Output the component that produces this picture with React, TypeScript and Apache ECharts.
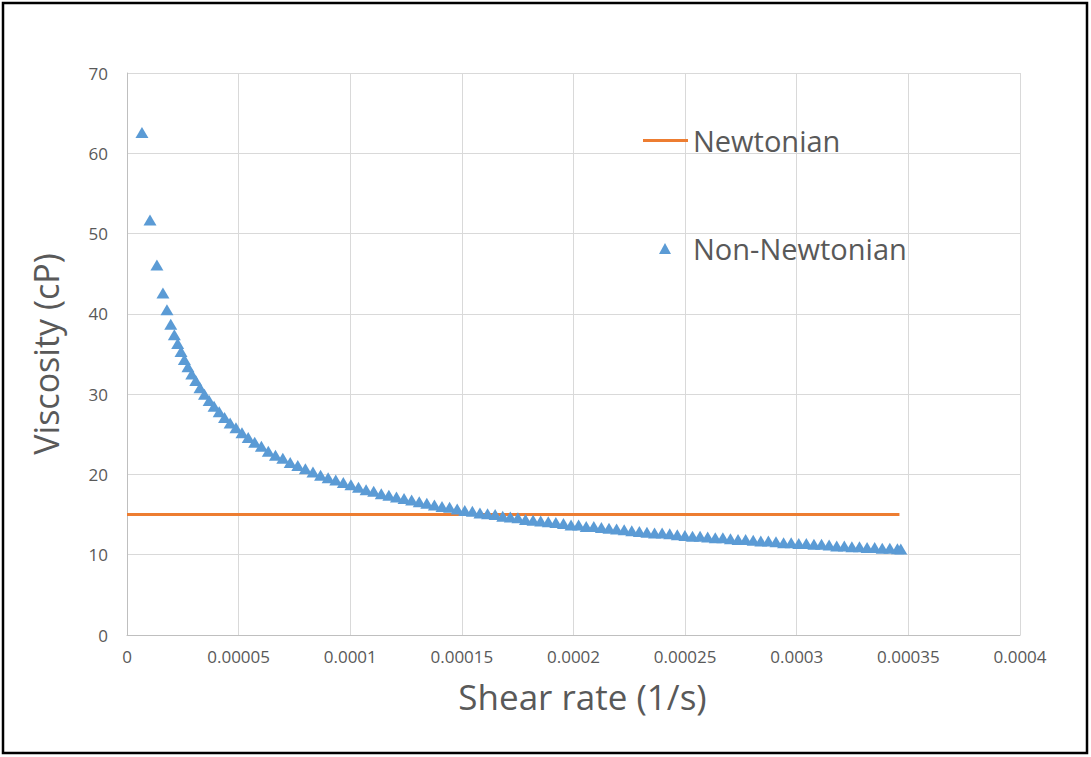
import React, { useEffect, useRef } from "react";
import * as echarts from "echarts";

// Shear rate (1/s) for the non-Newtonian points
const shearRate: number[] = [
  6.7e-6, 10.3e-6, 13.4e-6, 16.1e-6, 17.9e-6, 19.6e-6, 21.2e-6, 22.7e-6, 24.2e-6, 25.7e-6,
  27.3e-6, 29.0e-6, 30.8e-6, 32.7e-6, 34.7e-6, 36.8e-6, 39.0e-6, 41.3e-6, 43.7e-6, 46.2e-6,
  48.8e-6, 51.5e-6, 54.3e-6, 57.2e-6, 60.2e-6, 63.3e-6, 66.5e-6, 69.8e-6, 73.1e-6, 76.5e-6,
  79.9e-6, 83.3e-6, 86.7e-6, 90.1e-6, 93.5e-6, 96.9e-6, 100.3e-6, 103.7e-6, 107.1e-6, 110.5e-6,
  113.9e-6, 117.3e-6, 120.7e-6, 124.1e-6, 127.5e-6, 130.9e-6, 134.3e-6, 137.7e-6, 141.1e-6, 144.5e-6,
  147.9e-6, 151.3e-6, 154.7e-6, 158.1e-6, 161.5e-6, 164.9e-6, 168.3e-6, 171.7e-6, 175.1e-6, 178.5e-6,
  181.9e-6, 185.3e-6, 188.7e-6, 192.1e-6, 195.5e-6, 198.9e-6, 202.3e-6, 205.7e-6, 209.1e-6, 212.5e-6,
  215.9e-6, 219.3e-6, 222.7e-6, 226.1e-6, 229.5e-6, 232.9e-6, 236.3e-6, 239.7e-6, 243.1e-6, 246.5e-6,
  249.9e-6, 253.3e-6, 256.7e-6, 260.1e-6, 263.5e-6, 266.9e-6, 270.3e-6, 273.7e-6, 277.1e-6, 280.5e-6,
  283.9e-6, 287.3e-6, 290.7e-6, 294.1e-6, 297.5e-6, 300.9e-6, 304.3e-6, 307.7e-6, 311.1e-6, 314.5e-6,
  317.9e-6, 321.3e-6, 324.7e-6, 328.1e-6, 331.5e-6, 334.9e-6, 338.3e-6, 341.7e-6, 345.1e-6, 346.6e-6,
];

// Viscosity (cP) for the non-Newtonian points
const nonNewtonianViscosity: number[] = [
  62.6, 51.7, 46.1, 42.6, 40.5, 38.7, 37.4, 36.3, 35.3, 34.3,
  33.4, 32.5, 31.7, 30.8, 30.0, 29.2, 28.5, 27.8, 27.1, 26.4,
  25.8, 25.2, 24.6, 24.0, 23.5, 22.9, 22.4, 22.0, 21.5, 21.1,
  20.7, 20.3, 19.9, 19.6, 19.3, 19.0, 18.7, 18.4, 18.1, 17.9,
  17.6, 17.4, 17.2, 17.0, 16.8, 16.6, 16.4, 16.2, 16.0, 15.9,
  15.7, 15.5, 15.4, 15.2, 15.1, 15.0, 14.8, 14.7, 14.6, 14.4,
  14.3, 14.2, 14.1, 14.0, 13.9, 13.7, 13.7, 13.5, 13.5, 13.4,
  13.3, 13.2, 13.1, 13.0, 12.9, 12.8, 12.7, 12.7, 12.6, 12.5,
  12.4, 12.3, 12.3, 12.2, 12.1, 12.1, 12.0, 11.9, 11.9, 11.8,
  11.7, 11.7, 11.6, 11.5, 11.5, 11.4, 11.4, 11.3, 11.3, 11.2,
  11.1, 11.1, 11.0, 11.0, 10.9, 10.9, 10.8, 10.8, 10.75, 10.7,
];

// Newtonian constant viscosity line
const newtonianShearRate: number[] = [0, 0.000346];
const newtonianViscosity: number[] = [15, 15];

const xTickLabels: string[] = ["0", "0.00005", "0.0001", "0.00015", "0.0002", "0.00025", "0.0003", "0.00035", "0.0004"];
const yTickLabels: string[] = ["0", "10", "20", "30", "40", "50", "60", "70"];

const FONT = "'Open Sans', 'Noto Sans', sans-serif";

export default function App() {
  const ref = useRef<HTMLDivElement>(null);

  useEffect(() => {
    if (!ref.current) return;
    const chart = echarts.init(ref.current, undefined, { renderer: "svg" });

    const nonNewtonData = shearRate.map((x, i) => [x, nonNewtonianViscosity[i]]);
    const newtonData = newtonianShearRate.map((x, i) => [x, newtonianViscosity[i]]);

    chart.setOption({
      animation: false,
      backgroundColor: "#ffffff",
      textStyle: { fontFamily: FONT },
      grid: { left: 127, right: 71, top: 73, bottom: 122, containLabel: false },
      graphic: [
        {
          type: "rect",
          shape: { x: 3, y: 3, width: 1084, height: 750 },
          style: { fill: "none", stroke: "#000000", lineWidth: 2.5 },
          silent: true,
        },
      ],
      legend: [
        {
          data: ["Newtonian"],
          left: 643,
          top: 126,
          padding: 0,
          icon: "rect",
          itemWidth: 45,
          itemHeight: 3,
          textStyle: { fontSize: 29, color: "#595959", fontFamily: FONT },
        },
        {
          data: ["Non-Newtonian"],
          left: 659,
          top: 234,
          padding: 0,
          icon: "triangle",
          itemWidth: 12,
          itemHeight: 11,
          textStyle: { fontSize: 29, color: "#595959", fontFamily: FONT, padding: [0, 0, 0, 17] },
        },
      ],
      xAxis: {
        type: "value",
        min: 0,
        max: 0.0004,
        interval: 0.00005,
        name: "Shear rate (1/s)",
        nameLocation: "middle",
        nameGap: 44,
        nameTextStyle: { fontSize: 35, color: "#595959", fontFamily: FONT, padding: [0, 0, 0, 18] },
        axisLine: { show: true, lineStyle: { color: "#BFBFBF", width: 1 } },
        axisTick: { show: false },
        axisLabel: {
          fontSize: 17,
          color: "#595959",
          margin: 13,
          formatter: (v: number) => xTickLabels[Math.round(v / 0.00005)] ?? String(v),
        },
        splitLine: { show: true, lineStyle: { color: "#D9D9D9", width: 1 } },
      },
      yAxis: {
        type: "value",
        min: 0,
        max: 70,
        interval: 10,
        name: "Viscosity (cP)",
        nameLocation: "middle",
        nameGap: 64,
        nameTextStyle: { fontSize: 34, color: "#595959", fontFamily: FONT },
        axisLine: { show: true, lineStyle: { color: "#BFBFBF", width: 1 } },
        axisTick: { show: false },
        axisLabel: {
          fontSize: 17,
          color: "#595959",
          margin: 19,
          formatter: (v: number) => yTickLabels[Math.round(v / 10)] ?? String(v),
        },
        splitLine: { show: true, lineStyle: { color: "#D9D9D9", width: 1 } },
      },
      series: [
        {
          name: "Newtonian",
          type: "line",
          data: newtonData,
          showSymbol: false,
          symbol: "none",
          lineStyle: { color: "#ED7D31", width: 3 },
          itemStyle: { color: "#ED7D31" },
          z: 2,
        },
        {
          name: "Non-Newtonian",
          type: "scatter",
          data: nonNewtonData,
          symbol: "triangle",
          symbolSize: [13, 11],
          itemStyle: { color: "#5B9BD5", opacity: 1 },
          z: 3,
        },
      ],
    });

    return () => chart.dispose();
  }, []);

  return (
    <div
      ref={ref}
      style={{ position: "fixed", left: 0, top: 0, width: 1091, height: 757, background: "#fff" }}
    />
  );
}
